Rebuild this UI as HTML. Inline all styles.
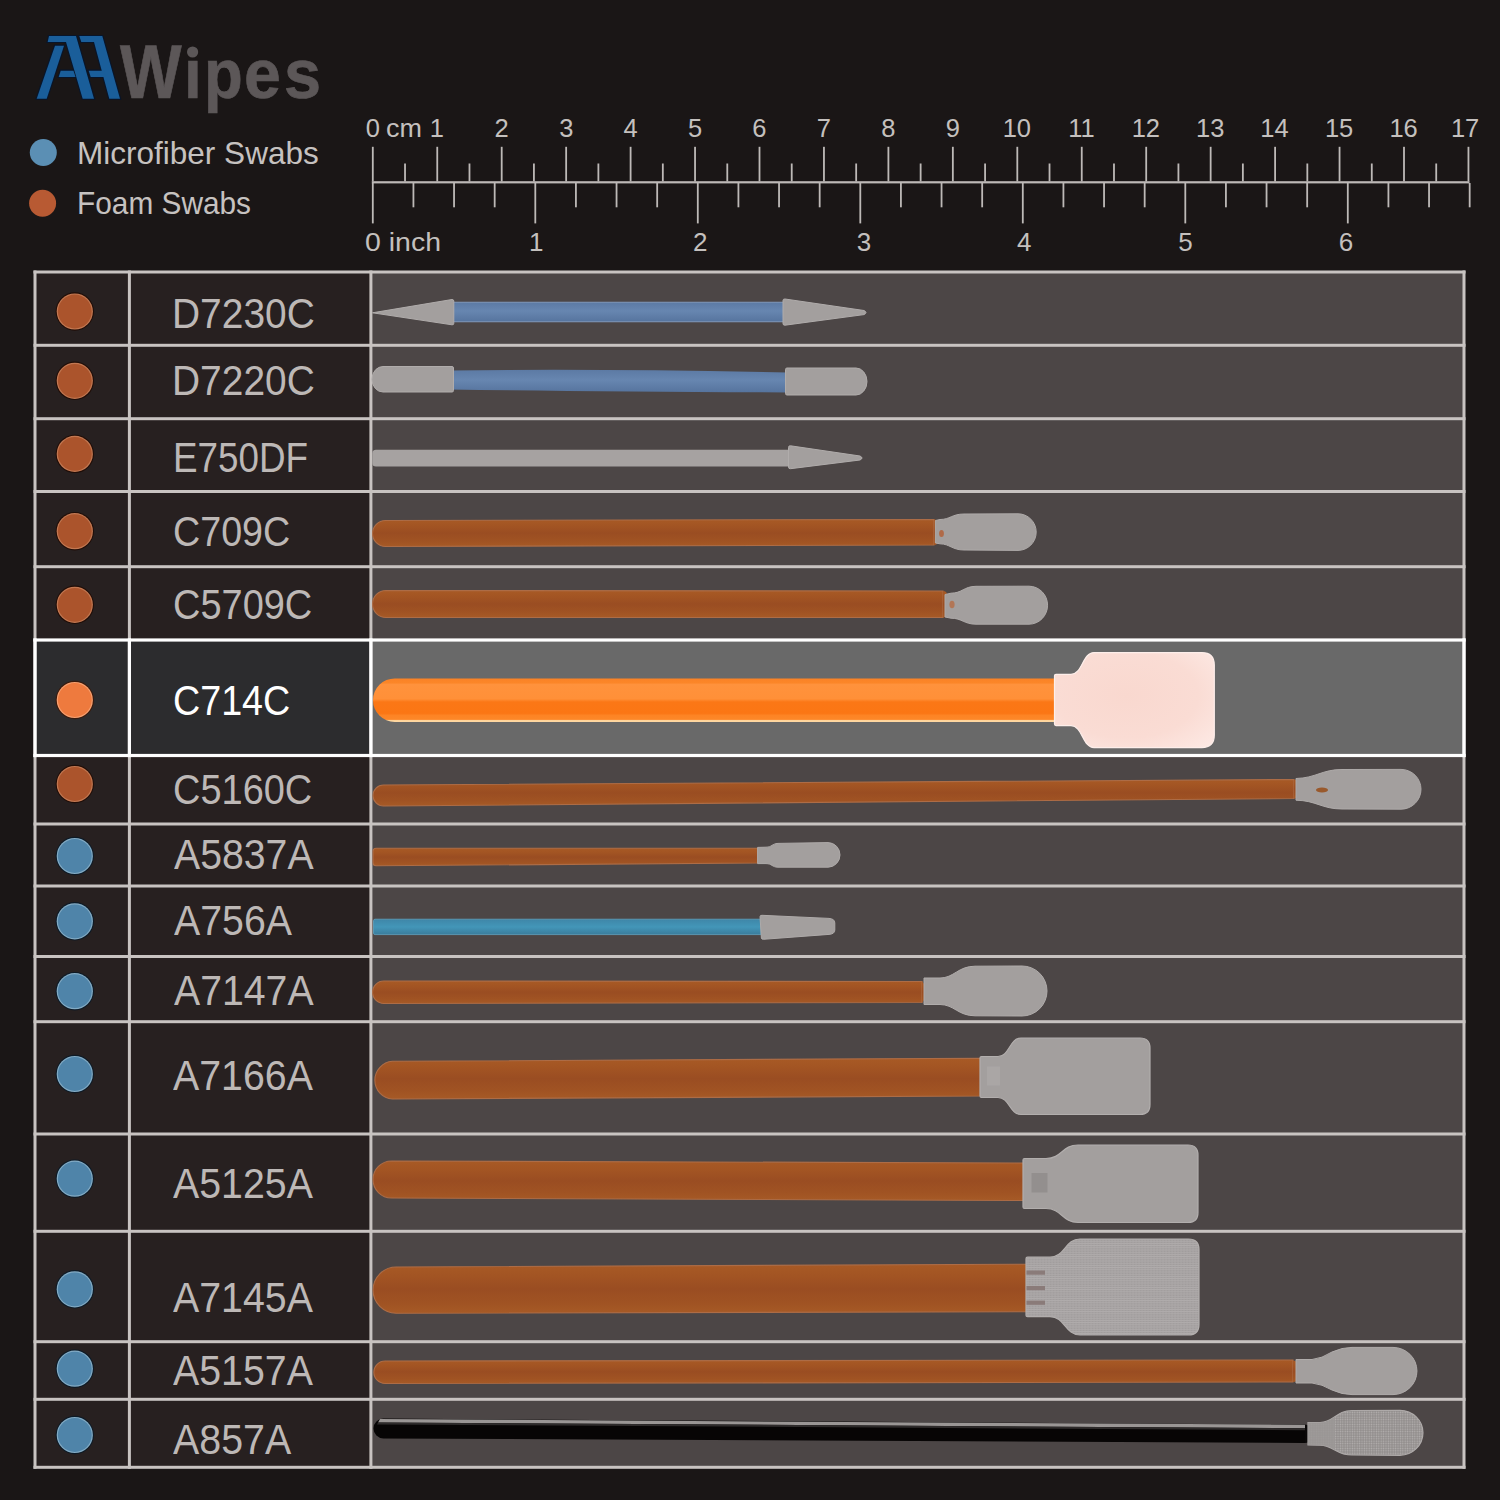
<!DOCTYPE html>
<html lang="en"><head><meta charset="utf-8"><title>AAWipes swab size chart</title>
<style>
html,body{margin:0;padding:0;}
body{width:1500px;height:1500px;overflow:hidden;background:#1a1616;position:relative;font-family:"Liberation Sans",sans-serif;}
#g{position:absolute;left:0;top:0;}
.t{position:absolute;white-space:nowrap;line-height:1;transform-origin:0 0;}
</style></head><body>
<svg id="g" width="1500" height="1500" viewBox="0 0 1500 1500">
<rect x="35" y="272" width="335.9" height="1195.3" fill="#272020"/>
<rect x="370.9" y="272" width="1093.1" height="1195.3" fill="#4c4646"/>
<rect x="35" y="640" width="335.9" height="115.5" fill="#2c2c2e"/>
<rect x="370.9" y="640" width="1093.1" height="115.5" fill="#696969"/>
<rect x="33.5" y="270.5" width="1432" height="3" fill="#c8c3c1"/>
<rect x="33.5" y="343.8" width="1432" height="3" fill="#c8c3c1"/>
<rect x="33.5" y="417.2" width="1432" height="3" fill="#c8c3c1"/>
<rect x="33.5" y="490.0" width="1432" height="3" fill="#c8c3c1"/>
<rect x="33.5" y="565.2" width="1432" height="3" fill="#c8c3c1"/>
<rect x="33.5" y="822.5" width="1432" height="3" fill="#c8c3c1"/>
<rect x="33.5" y="884.5" width="1432" height="3" fill="#c8c3c1"/>
<rect x="33.5" y="955.0" width="1432" height="3" fill="#c8c3c1"/>
<rect x="33.5" y="1020.2" width="1432" height="3" fill="#c8c3c1"/>
<rect x="33.5" y="1132.5" width="1432" height="3" fill="#c8c3c1"/>
<rect x="33.5" y="1229.8" width="1432" height="3" fill="#c8c3c1"/>
<rect x="33.5" y="1340.2" width="1432" height="3" fill="#c8c3c1"/>
<rect x="33.5" y="1397.8" width="1432" height="3" fill="#c8c3c1"/>
<rect x="33.5" y="1465.8" width="1432" height="3" fill="#c8c3c1"/>
<rect x="33.5" y="270.5" width="3" height="1198.3" fill="#c8c3c1"/>
<rect x="127.9" y="270.5" width="3" height="1198.3" fill="#c8c3c1"/>
<rect x="369.4" y="270.5" width="3" height="1198.3" fill="#c8c3c1"/>
<rect x="1462.5" y="270.5" width="3" height="1198.3" fill="#c8c3c1"/>
<rect x="33.4" y="638.4" width="1432.2" height="3.2" fill="#fff"/>
<rect x="33.4" y="753.9" width="1432.2" height="3.2" fill="#fff"/>
<rect x="33.4" y="638.4" width="3.2" height="118.7" fill="#fff"/>
<rect x="127.80000000000001" y="638.4" width="3.2" height="118.7" fill="#fff"/>
<rect x="369.29999999999995" y="638.4" width="3.2" height="118.7" fill="#fff"/>
<rect x="1462.4" y="638.4" width="3.2" height="118.7" fill="#fff"/>
<circle cx="74.8" cy="311.5" r="19.2" fill="#200d07"/><circle cx="74.8" cy="311.5" r="18.1" fill="#c27852"/><circle cx="74.8" cy="311.5" r="16.9" fill="#ab542c"/>
<circle cx="74.8" cy="380.8" r="19.2" fill="#200d07"/><circle cx="74.8" cy="380.8" r="18.1" fill="#c27852"/><circle cx="74.8" cy="380.8" r="16.9" fill="#ab542c"/>
<circle cx="74.8" cy="453.9" r="19.2" fill="#200d07"/><circle cx="74.8" cy="453.9" r="18.1" fill="#c27852"/><circle cx="74.8" cy="453.9" r="16.9" fill="#ab542c"/>
<circle cx="74.8" cy="531.2" r="19.2" fill="#200d07"/><circle cx="74.8" cy="531.2" r="18.1" fill="#c27852"/><circle cx="74.8" cy="531.2" r="16.9" fill="#ab542c"/>
<circle cx="74.8" cy="604.8" r="19.2" fill="#200d07"/><circle cx="74.8" cy="604.8" r="18.1" fill="#c27852"/><circle cx="74.8" cy="604.8" r="16.9" fill="#ab542c"/>
<circle cx="74.8" cy="700" r="19.2" fill="#3a1a0c"/><circle cx="74.8" cy="700" r="18.1" fill="#f7a070"/><circle cx="74.8" cy="700" r="16.9" fill="#ee7a3e"/>
<circle cx="74.8" cy="784" r="19.2" fill="#200d07"/><circle cx="74.8" cy="784" r="18.1" fill="#c27852"/><circle cx="74.8" cy="784" r="16.9" fill="#ab542c"/>
<circle cx="74.8" cy="856" r="19.2" fill="#0d1a26"/><circle cx="74.8" cy="856" r="18.1" fill="#83abc4"/><circle cx="74.8" cy="856" r="16.9" fill="#4f84a9"/>
<circle cx="74.8" cy="921.3" r="19.2" fill="#0d1a26"/><circle cx="74.8" cy="921.3" r="18.1" fill="#83abc4"/><circle cx="74.8" cy="921.3" r="16.9" fill="#4f84a9"/>
<circle cx="74.8" cy="991.2" r="19.2" fill="#0d1a26"/><circle cx="74.8" cy="991.2" r="18.1" fill="#83abc4"/><circle cx="74.8" cy="991.2" r="16.9" fill="#4f84a9"/>
<circle cx="74.8" cy="1074" r="19.2" fill="#0d1a26"/><circle cx="74.8" cy="1074" r="18.1" fill="#83abc4"/><circle cx="74.8" cy="1074" r="16.9" fill="#4f84a9"/>
<circle cx="74.8" cy="1178.7" r="19.2" fill="#0d1a26"/><circle cx="74.8" cy="1178.7" r="18.1" fill="#83abc4"/><circle cx="74.8" cy="1178.7" r="16.9" fill="#4f84a9"/>
<circle cx="74.8" cy="1289.3" r="19.2" fill="#0d1a26"/><circle cx="74.8" cy="1289.3" r="18.1" fill="#83abc4"/><circle cx="74.8" cy="1289.3" r="16.9" fill="#4f84a9"/>
<circle cx="74.8" cy="1368.7" r="19.2" fill="#0d1a26"/><circle cx="74.8" cy="1368.7" r="18.1" fill="#83abc4"/><circle cx="74.8" cy="1368.7" r="16.9" fill="#4f84a9"/>
<circle cx="74.8" cy="1435" r="19.2" fill="#0d1a26"/><circle cx="74.8" cy="1435" r="18.1" fill="#83abc4"/><circle cx="74.8" cy="1435" r="16.9" fill="#4f84a9"/>
<circle cx="43.3" cy="152.5" r="13.5" fill="#5b8fb4"/>
<circle cx="42.6" cy="203.2" r="13.5" fill="#b85a33"/>
<rect x="371.8" y="181.2" width="1097.65" height="2.2" fill="#bdb9b7"/>
<rect x="371.90" y="146.8" width="1.8" height="34.7" fill="#bdb9b7"/>
<rect x="404.13" y="163.5" width="1.8" height="18.0" fill="#bdb9b7"/>
<rect x="436.35" y="146.8" width="1.8" height="34.7" fill="#bdb9b7"/>
<rect x="468.58" y="163.5" width="1.8" height="18.0" fill="#bdb9b7"/>
<rect x="500.80" y="146.8" width="1.8" height="34.7" fill="#bdb9b7"/>
<rect x="533.02" y="163.5" width="1.8" height="18.0" fill="#bdb9b7"/>
<rect x="565.25" y="146.8" width="1.8" height="34.7" fill="#bdb9b7"/>
<rect x="597.48" y="163.5" width="1.8" height="18.0" fill="#bdb9b7"/>
<rect x="629.70" y="146.8" width="1.8" height="34.7" fill="#bdb9b7"/>
<rect x="661.93" y="163.5" width="1.8" height="18.0" fill="#bdb9b7"/>
<rect x="694.15" y="146.8" width="1.8" height="34.7" fill="#bdb9b7"/>
<rect x="726.38" y="163.5" width="1.8" height="18.0" fill="#bdb9b7"/>
<rect x="758.60" y="146.8" width="1.8" height="34.7" fill="#bdb9b7"/>
<rect x="790.83" y="163.5" width="1.8" height="18.0" fill="#bdb9b7"/>
<rect x="823.05" y="146.8" width="1.8" height="34.7" fill="#bdb9b7"/>
<rect x="855.27" y="163.5" width="1.8" height="18.0" fill="#bdb9b7"/>
<rect x="887.50" y="146.8" width="1.8" height="34.7" fill="#bdb9b7"/>
<rect x="919.73" y="163.5" width="1.8" height="18.0" fill="#bdb9b7"/>
<rect x="951.95" y="146.8" width="1.8" height="34.7" fill="#bdb9b7"/>
<rect x="984.18" y="163.5" width="1.8" height="18.0" fill="#bdb9b7"/>
<rect x="1016.40" y="146.8" width="1.8" height="34.7" fill="#bdb9b7"/>
<rect x="1048.62" y="163.5" width="1.8" height="18.0" fill="#bdb9b7"/>
<rect x="1080.85" y="146.8" width="1.8" height="34.7" fill="#bdb9b7"/>
<rect x="1113.08" y="163.5" width="1.8" height="18.0" fill="#bdb9b7"/>
<rect x="1145.30" y="146.8" width="1.8" height="34.7" fill="#bdb9b7"/>
<rect x="1177.52" y="163.5" width="1.8" height="18.0" fill="#bdb9b7"/>
<rect x="1209.75" y="146.8" width="1.8" height="34.7" fill="#bdb9b7"/>
<rect x="1241.97" y="163.5" width="1.8" height="18.0" fill="#bdb9b7"/>
<rect x="1274.20" y="146.8" width="1.8" height="34.7" fill="#bdb9b7"/>
<rect x="1306.42" y="163.5" width="1.8" height="18.0" fill="#bdb9b7"/>
<rect x="1338.65" y="146.8" width="1.8" height="34.7" fill="#bdb9b7"/>
<rect x="1370.88" y="163.5" width="1.8" height="18.0" fill="#bdb9b7"/>
<rect x="1403.10" y="146.8" width="1.8" height="34.7" fill="#bdb9b7"/>
<rect x="1435.32" y="163.5" width="1.8" height="18.0" fill="#bdb9b7"/>
<rect x="1467.55" y="146.8" width="1.8" height="34.7" fill="#bdb9b7"/>
<rect x="371.90" y="183" width="1.8" height="40.4" fill="#bdb9b7"/>
<rect x="412.53" y="183" width="1.8" height="24.3" fill="#bdb9b7"/>
<rect x="453.15" y="183" width="1.8" height="24.3" fill="#bdb9b7"/>
<rect x="493.78" y="183" width="1.8" height="24.3" fill="#bdb9b7"/>
<rect x="534.40" y="183" width="1.8" height="40.4" fill="#bdb9b7"/>
<rect x="575.02" y="183" width="1.8" height="24.3" fill="#bdb9b7"/>
<rect x="615.65" y="183" width="1.8" height="24.3" fill="#bdb9b7"/>
<rect x="656.27" y="183" width="1.8" height="24.3" fill="#bdb9b7"/>
<rect x="696.90" y="183" width="1.8" height="40.4" fill="#bdb9b7"/>
<rect x="737.52" y="183" width="1.8" height="24.3" fill="#bdb9b7"/>
<rect x="778.15" y="183" width="1.8" height="24.3" fill="#bdb9b7"/>
<rect x="818.77" y="183" width="1.8" height="24.3" fill="#bdb9b7"/>
<rect x="859.40" y="183" width="1.8" height="40.4" fill="#bdb9b7"/>
<rect x="900.02" y="183" width="1.8" height="24.3" fill="#bdb9b7"/>
<rect x="940.65" y="183" width="1.8" height="24.3" fill="#bdb9b7"/>
<rect x="981.27" y="183" width="1.8" height="24.3" fill="#bdb9b7"/>
<rect x="1021.90" y="183" width="1.8" height="40.4" fill="#bdb9b7"/>
<rect x="1062.52" y="183" width="1.8" height="24.3" fill="#bdb9b7"/>
<rect x="1103.15" y="183" width="1.8" height="24.3" fill="#bdb9b7"/>
<rect x="1143.77" y="183" width="1.8" height="24.3" fill="#bdb9b7"/>
<rect x="1184.40" y="183" width="1.8" height="40.4" fill="#bdb9b7"/>
<rect x="1225.02" y="183" width="1.8" height="24.3" fill="#bdb9b7"/>
<rect x="1265.65" y="183" width="1.8" height="24.3" fill="#bdb9b7"/>
<rect x="1306.27" y="183" width="1.8" height="24.3" fill="#bdb9b7"/>
<rect x="1346.90" y="183" width="1.8" height="40.4" fill="#bdb9b7"/>
<rect x="1387.52" y="183" width="1.8" height="24.3" fill="#bdb9b7"/>
<rect x="1428.15" y="183" width="1.8" height="24.3" fill="#bdb9b7"/>
<rect x="1468.77" y="183" width="1.8" height="24.3" fill="#bdb9b7"/>
<circle cx="192.6" cy="52" r="5.6" fill="#5c5758"/>
<g stroke="#07152b" stroke-width="2.2" stroke-linejoin="miter" fill="none"><polygon points="55.0,45.7 64.0,45.7 46.7,98.7 36.7,98.7"  /><polygon points="49.0,36.0 76.0,36.0 94.0,98.7 82.7,98.7 66.0,42.0 47.7,42.0"  /><polygon points="60.7,70.7 73.5,70.7 75.5,77.0 58.7,77.0"  /><polygon points="79.3,36.0 102.3,36.0 120.0,98.7 109.3,98.7 94.0,42.0 81.3,42.0"  /><polygon points="88.7,70.7 104.0,70.7 105.8,77.0 90.7,77.0"  /></g>
<g><polygon points="55.0,45.7 64.0,45.7 46.7,98.7 36.7,98.7" fill="#1a5e9a" /><polygon points="49.0,36.0 76.0,36.0 94.0,98.7 82.7,98.7 66.0,42.0 47.7,42.0" fill="#1a5e9a" /><polygon points="60.7,70.7 73.5,70.7 75.5,77.0 58.7,77.0" fill="#1a5e9a" /><polygon points="79.3,36.0 102.3,36.0 120.0,98.7 109.3,98.7 94.0,42.0 81.3,42.0" fill="#1a5e9a" /><polygon points="88.7,70.7 104.0,70.7 105.8,77.0 90.7,77.0" fill="#1a5e9a" /></g>
<defs>
<linearGradient id="gOr" x1="0" y1="0" x2="0" y2="1"><stop offset="0" stop-color="#a85a25"/><stop offset="0.25" stop-color="#a25423"/><stop offset="0.5" stop-color="#9a4d22"/><stop offset="0.8" stop-color="#a05323"/><stop offset="1" stop-color="#a65a26"/></linearGradient>
<linearGradient id="gOrH" x1="0" y1="0" x2="0" y2="1"><stop offset="0" stop-color="#f98226"/><stop offset="0.1" stop-color="#fc8628"/><stop offset="0.14" stop-color="#ff923c"/><stop offset="0.47" stop-color="#ff9038"/><stop offset="0.54" stop-color="#fb7716"/><stop offset="0.8" stop-color="#fb7614"/><stop offset="0.85" stop-color="#fd8424"/><stop offset="0.94" stop-color="#fd8728"/><stop offset="0.965" stop-color="#ffd49a"/><stop offset="1" stop-color="#ffd9a4"/></linearGradient>
<linearGradient id="gBl" x1="0" y1="0" x2="0" y2="1"><stop offset="0" stop-color="#5c7aa4"/><stop offset="0.45" stop-color="#6786b0"/><stop offset="1" stop-color="#56749e"/></linearGradient>
<linearGradient id="gCy" x1="0" y1="0" x2="0" y2="1"><stop offset="0" stop-color="#3f86a8"/><stop offset="0.5" stop-color="#4396b8"/><stop offset="1" stop-color="#3a7c9c"/></linearGradient>
<linearGradient id="gGr" x1="0" y1="0" x2="0" y2="1"><stop offset="0" stop-color="#aeaaa9"/><stop offset="1" stop-color="#a19d9c"/></linearGradient>
<linearGradient id="gBk" x1="0" y1="0" x2="0" y2="1"><stop offset="0" stop-color="#6e6a6a"/><stop offset="0.22" stop-color="#3a3737"/><stop offset="0.3" stop-color="#050505"/><stop offset="1" stop-color="#0b0909"/></linearGradient>
<radialGradient id="gPk" cx="0.45" cy="0.45" r="0.75"><stop offset="0" stop-color="#f9d8cf"/><stop offset="0.6" stop-color="#fadcd4"/><stop offset="1" stop-color="#fde9e4"/></radialGradient>
<pattern id="mesh" width="2.4" height="2.4" patternUnits="userSpaceOnUse"><rect width="2.4" height="2.4" fill="#928e8d"/><circle cx="1.2" cy="1.2" r="0.75" fill="#b4b0af"/></pattern>
<pattern id="knit" width="3" height="2.2" patternUnits="userSpaceOnUse"><rect width="3" height="2.2" fill="#a6a2a2"/><rect y="0" width="3" height="0.8" fill="#b0acac"/><rect x="0" y="1.2" width="1.2" height="0.7" fill="#9c9898"/></pattern>
</defs>
<path d="M450.0,302.3 L786.0,302.3 L786.0,321.7 L450.0,321.7 Z" fill="url(#gBl)" stroke="#7f98ba" stroke-width="1.1"/>
<path d="M372.5,312.8 L452,299.5 Q453.8,299.5 453.8,301 L453.8,323.4 Q453.8,325 452,324.8 Z" fill="#a39f9e" stroke="#b0acab" stroke-width="1"/>
<path d="M783,300.5 Q783,298.8 785,299 L864,310.5 Q868,312.6 864,314.6 L785,325.2 Q783,325.4 783,323.6 Z" fill="#a39f9e" stroke="#b0acab" stroke-width="1"/>
<path d="M450,370.5 Q600,368.5 788,372.5 L788,392.5 Q600,391.5 450,389.5 Z" fill="url(#gBl)"/>
<path d="M383,366.5 L452,366.5 Q453.5,366.5 453.5,368 L453.5,390.5 Q453.5,392 452,392 L383,392 A11,12.7 0 0 1 383,366.500 Z" fill="#a39f9e" stroke="#b0acab" stroke-width="1"/>
<path d="M785.5,369.5 Q785.5,368 787,368 L856,368 A11,13.5 0 0 1 856,395 L787,395 Q785.5,395 785.5,393.5 Z" fill="#a39f9e" stroke="#b0acab" stroke-width="1"/>
<path d="M376,449.8 L790,449.8 L790,466.6 L376,466.6 Q372.3,466.6 372.3,463 L372.3,453.4 Q372.3,449.8 376,449.8 Z" fill="#a6a2a1"/>
<path d="M788.5,447.5 Q788.5,445.5 790.5,445.8 L860,456 Q864,458 860,460 L790.5,468.7 Q788.5,469 788.5,467 Z" fill="#a39f9e" stroke="#b0acab" stroke-width="1"/>
<path d="M385.5,520.5 L934.0,519.5 L934.0,545.0 L385.5,546.5 A13.0,13.0 0 0 1 385.5,520.5 Z" fill="url(#gOr)" stroke="#ad6c46" stroke-width="1.1"/>
<path d="M934,519.5 Q938,519.5 938,524 L938,541 Q938,545 934,545 Z" fill="url(#gOr)"/>
<path d="M935.4,520.5 L940,519.5 C950,519.5 952,514 964,514 L1018,513.8 A18.2,18.3 0 0 1 1018,550.4 L964,550 C952,550 950,544 940,543.8 L935.4,543 Z" fill="#a39f9e" stroke="#aeaaa9" stroke-width="1"/>
<ellipse cx="941.5" cy="533.5" rx="2.4" ry="3.6" fill="#b06a48"/>
<path d="M386.0,590.5 L943.0,591.0 L943.0,617.5 L386.0,617.5 A13.5,13.5 0 0 1 386.0,590.5 Z" fill="url(#gOr)" stroke="#ad6c46" stroke-width="1.1"/>
<path d="M943,591 Q947,591 947,595 L947,613.5 Q947,617.5 943,617.5 Z" fill="url(#gOr)"/>
<path d="M945,594.5 L951,593.2 C962,593.2 964,586.4 976,586.3 L1029,586.2 A18.6,19 0 0 1 1029,624.2 L976,624.2 C964,624.2 962,618.2 951,618.2 L945,617 Z" fill="#a39f9e" stroke="#aeaaa9" stroke-width="1"/>
<ellipse cx="952" cy="604.5" rx="2.6" ry="3.8" fill="#b27656"/>
<path d="M394.8,678.4 L1056.0,678.4 L1056.0,722.0 L394.8,722.0 A21.8,21.8 0 0 1 394.8,678.4 Z" fill="url(#gOrH)"/>
<path d="M1056.0,674.3 L1071,674.3 C1082.5,674.3 1082.5,652.6 1094,652.6 L1201.8,652.6 Q1214.3,652.6 1214.3,665.1 L1214.3,735.1 Q1214.3,747.6 1201.8,747.6 L1094,747.6 C1082.5,747.6 1082.5,725.6 1071,725.6 L1056.0,725.6 Q1054.5,725.6 1054.5,724.1 L1054.5,675.8 Q1054.5,674.3 1056.0,674.3 Z" fill="url(#gPk)" stroke="#fdeeea" stroke-width="1.2" stroke-linejoin="round"/>
<path d="M383.5,785.0 L1294.0,779.5 L1294.0,798.5 L383.5,806.0 A10.5,10.5 0 0 1 383.5,785.0 Z" fill="url(#gOr)" stroke="#ad6c46" stroke-width="1.1"/>
<path d="M1294,779.5 Q1298,780 1298,784 L1298,794.5 Q1298,798.5 1294,798.5 Z" fill="url(#gOr)"/>
<path d="M1296,778.5 C1316,778 1322,769.5 1342,769.5 L1401,769.4 A20,19.9 0 0 1 1401,809.2 L1342,809 C1322,809 1316,800.5 1296,800.2 Z" fill="#a39f9e" stroke="#aeaaa9" stroke-width="1"/>
<ellipse cx="1322" cy="790" rx="6" ry="2.5" fill="#99592c"/>
<path d="M376,848.3 L758,848.3 L758,863 L376,865.800 Q373,865.800 373,862.800 L373,851.300 Q373,848.300 376,848.300 Z" fill="url(#gOr)" stroke="#ad6c46" stroke-width="1.1"/>
<path d="M757.6,847.4 L766,847.2 C772,847.2 772,843.6 778,843.4 L828,842.6 A12,12.3 0 0 1 828,867.2 L778,867.2 C772,867.2 772,863.6 766,863.6 L757.6,863.6 Z" fill="#a39f9e" stroke="#aeaaa9" stroke-width="1"/>
<path d="M375,919.2 L761,919.2 L761,934.6 L375,934.6 Q373.5,934.6 373.5,933 L373.5,920.800 Q373.5,919.200 375,919.200 Z" fill="url(#gCy)" stroke="#5fa3c0" stroke-width="0.8"/>
<path d="M760,916.7 Q760,915.2 762,915.3 L829,918.4 Q834.8,918.800 834.8,923 L834.8,930 Q834.8,934 829,934.400 L763.5,939.3 Q761.5,939.400 761.4,938 Z" fill="#a39f9e" stroke="#aeaaa9" stroke-width="1"/>
<path d="M383.8,981.0 L922.0,981.5 L922.0,1002.5 L383.8,1003.5 A11.2,11.2 0 0 1 383.8,981.0 Z" fill="url(#gOr)" stroke="#ad6c46" stroke-width="1.1"/>
<path d="M922,981.500 L926,986 L926,998 L922,1002.500 Z" fill="url(#gOr)"/>
<path d="M924,978 L940,978 C954,978 958,966.2 975,966.2 L1022,966 A25,25 0 0 1 1022,1016 L975,1015.8 C958,1015.8 954,1004.5 940,1004.5 L924,1004.5 Z" fill="#a39f9e" stroke="#b0acab" stroke-width="1"/>
<path d="M392.4,1061.3 L982.0,1058.2 L982.0,1096.0 L392.4,1099.0 A18.9,18.9 0 0 1 392.4,1061.3 Z" fill="url(#gOr)" stroke="#ad6c46" stroke-width="1.1"/>
<path d="M981.5,1056.5 L998,1056.5 C1009.5,1056.5 1009.5,1038 1021,1038 L1140,1038 Q1150,1038 1150,1048 L1150,1104.5 Q1150,1114.5 1140,1114.5 L1021,1114.5 C1009.5,1114.5 1009.5,1097.5 998,1097.5 L981.5,1097.5 Q980,1097.5 980,1096.0 L980,1058.0 Q980,1056.5 981.5,1056.5 Z" fill="#a39f9e" stroke="#b2aead" stroke-width="1.2" stroke-linejoin="round"/>
<rect x="987" y="1066.500" width="13" height="19" fill="#aaa6a5"/>
<path d="M391.5,1161.0 L1024.0,1163.0 L1024.0,1200.5 L391.5,1198.0 A18.5,18.5 0 0 1 391.5,1161.0 Z" fill="url(#gOr)" stroke="#ad6c46" stroke-width="1.1"/>
<path d="M1024.5,1158.5 L1046,1158.5 C1062.0,1158.5 1062.0,1145 1078,1145 L1188,1145 Q1198,1145 1198,1155 L1198,1212.5 Q1198,1222.5 1188,1222.5 L1078,1222.5 C1062.0,1222.5 1062.0,1208.5 1046,1208.5 L1024.5,1208.5 Q1023,1208.5 1023,1207.0 L1023,1160.0 Q1023,1158.5 1024.5,1158.5 Z" fill="#a39f9e" stroke="#b2aead" stroke-width="1.2" stroke-linejoin="round"/>
<rect x="1031.500" y="1173" width="16" height="19.500" fill="#938f8e"/>
<path d="M396.1,1267.0 L1027.0,1264.2 L1027.0,1311.8 L396.1,1313.2 A23.1,23.1 0 0 1 396.1,1267.0 Z" fill="url(#gOr)" stroke="#ad6c46" stroke-width="1.1"/>
<path d="M1027.5,1257.2 L1050,1257.2 C1065.0,1257.2 1065.0,1239 1080,1239 L1188.5,1239 Q1199,1239 1199,1249.5 L1199,1324.5 Q1199,1335 1188.5,1335 L1080,1335 C1065.0,1335 1065.0,1316.7 1050,1316.7 L1027.5,1316.7 Q1026,1316.7 1026,1315.2 L1026,1258.7 Q1026,1257.2 1027.5,1257.2 Z" fill="url(#knit)" stroke="#b2aead" stroke-width="1.2" stroke-linejoin="round"/>
<rect x="1026.5" y="1270.5" width="18.5" height="4.2" fill="#8a7b79"/>
<rect x="1026.5" y="1286" width="18.5" height="4.2" fill="#8a7b79"/>
<rect x="1026.5" y="1300.6" width="18.5" height="4.2" fill="#8a7b79"/>
<path d="M385.1,1361.0 L1293.0,1360.0 L1293.0,1382.0 L385.1,1383.5 A11.2,11.2 0 0 1 385.1,1361.0 Z" fill="url(#gOr)" stroke="#ad6c46" stroke-width="1.1"/>
<path d="M1293,1360.5 Q1298,1361 1298,1366 L1298,1377 Q1298,1382 1293,1382 Z" fill="url(#gOr)"/>
<path d="M1296,1359.500 L1312,1359.500 Q1322,1358.5 1332,1352 Q1342,1347.4 1352,1347.4 L1393,1347.4 A24,23.6 0 0 1 1393,1394.600 L1352,1394.600 Q1342,1394.600 1332,1390 Q1322,1384 1312,1383 L1296,1383 Z" fill="#a39f9e" stroke="#b0acab" stroke-width="1"/>
<path d="M383.4,1418.6 L1305.0,1424.6 L1305.0,1443.0 L383.4,1438.4 A9.9,9.9 0 0 1 383.4,1418.6 Z" fill="#070505"/>
<path d="M380,1419 L1305,1424.8 L1305,1428.2 L378,1422.4 Z" fill="#9a9695"/>
<path d="M378,1422.4 L1305,1428.2 L1305,1430.2 L377,1424.4 Z" fill="#2e2b2b"/>
<path d="M1305,1424.600 Q1310,1425 1310,1430 L1310,1438 Q1310,1443 1305,1443 Z" fill="#0a0808"/>
<path d="M1308,1422.5 L1320,1422.5 C1334,1422.5 1336,1410.5 1352,1410.5 L1400,1410.300 A23,22.500 0 0 1 1400,1455.300 L1352,1455 C1336,1455 1334,1445.500 1320,1445.200 L1308,1445 Z" fill="url(#mesh)" stroke="#aeaaa9" stroke-width="1.2"/>
<path d="M1308,1422.5 L1320,1422.5 C1327,1422.5 1331,1419.500 1335,1416.500 L1335,1450 C1331,1447.500 1327,1445.400 1320,1445.200 L1308,1445 Z" fill="#9b9796" opacity="0.8"/>
</svg>
<span class="t" style="left:172.41px;top:292.82px;font-size:41.8px;color:#bdb8b6;transform:scaleX(0.9309);">D7230C</span>
<span class="t" style="left:172.41px;top:360.22px;font-size:41.8px;color:#bdb8b6;transform:scaleX(0.9309);">D7220C</span>
<span class="t" style="left:172.98px;top:436.82px;font-size:41.8px;color:#bdb8b6;transform:scaleX(0.8809);">E750DF</span>
<span class="t" style="left:172.58px;top:510.52px;font-size:41.8px;color:#bdb8b6;transform:scaleX(0.9011);">C709C</span>
<span class="t" style="left:172.56px;top:584.12px;font-size:41.8px;color:#bdb8b6;transform:scaleX(0.9082);">C5709C</span>
<span class="t" style="left:172.58px;top:679.72px;font-size:41.8px;color:#ffffff;transform:scaleX(0.9011);">C714C</span>
<span class="t" style="left:172.56px;top:768.52px;font-size:41.8px;color:#bdb8b6;transform:scaleX(0.9082);">C5160C</span>
<span class="t" style="left:173.52px;top:834.32px;font-size:41.8px;color:#bdb8b6;transform:scaleX(0.9381);">A5837A</span>
<span class="t" style="left:173.52px;top:899.52px;font-size:41.8px;color:#bdb8b6;transform:scaleX(0.9400);">A756A</span>
<span class="t" style="left:173.52px;top:970.32px;font-size:41.8px;color:#bdb8b6;transform:scaleX(0.9381);">A7147A</span>
<span class="t" style="left:173.42px;top:1055.32px;font-size:41.8px;color:#bdb8b6;transform:scaleX(0.9408);">A7166A</span>
<span class="t" style="left:173.42px;top:1162.72px;font-size:41.8px;color:#bdb8b6;transform:scaleX(0.9408);">A5125A</span>
<span class="t" style="left:173.42px;top:1276.92px;font-size:41.8px;color:#bdb8b6;transform:scaleX(0.9408);">A7145A</span>
<span class="t" style="left:173.42px;top:1349.92px;font-size:41.8px;color:#bdb8b6;transform:scaleX(0.9408);">A5157A</span>
<span class="t" style="left:173.42px;top:1418.82px;font-size:41.8px;color:#bdb8b6;transform:scaleX(0.9416);">A857A</span>
<span class="t" style="left:365.71px;top:115.71px;font-size:25.5px;color:#c4c0be;">0</span>
<span class="t" style="left:429.82px;top:115.71px;font-size:25.5px;color:#c4c0be;">1</span>
<span class="t" style="left:494.61px;top:115.71px;font-size:25.5px;color:#c4c0be;">2</span>
<span class="t" style="left:559.14px;top:115.71px;font-size:25.5px;color:#c4c0be;">3</span>
<span class="t" style="left:623.59px;top:115.71px;font-size:25.5px;color:#c4c0be;">4</span>
<span class="t" style="left:687.99px;top:115.71px;font-size:25.5px;color:#c4c0be;">5</span>
<span class="t" style="left:752.32px;top:115.71px;font-size:25.5px;color:#c4c0be;">6</span>
<span class="t" style="left:816.85px;top:115.71px;font-size:25.5px;color:#c4c0be;">7</span>
<span class="t" style="left:881.31px;top:115.71px;font-size:25.5px;color:#c4c0be;">8</span>
<span class="t" style="left:945.76px;top:115.71px;font-size:25.5px;color:#c4c0be;">9</span>
<span class="t" style="left:1002.65px;top:115.71px;font-size:25.5px;color:#c4c0be;">10</span>
<span class="t" style="left:1068.17px;top:115.71px;font-size:25.5px;color:#c4c0be;">11</span>
<span class="t" style="left:1131.69px;top:115.71px;font-size:25.5px;color:#c4c0be;">12</span>
<span class="t" style="left:1196.06px;top:115.71px;font-size:25.5px;color:#c4c0be;">13</span>
<span class="t" style="left:1260.32px;top:115.71px;font-size:25.5px;color:#c4c0be;">14</span>
<span class="t" style="left:1324.94px;top:115.71px;font-size:25.5px;color:#c4c0be;">15</span>
<span class="t" style="left:1389.41px;top:115.71px;font-size:25.5px;color:#c4c0be;">16</span>
<span class="t" style="left:1450.94px;top:115.71px;font-size:25.5px;color:#c4c0be;">17</span>
<span class="t" style="left:385.87px;top:115.71px;font-size:25.5px;color:#c4c0be;transform:scaleX(1.0564);">cm</span>
<span class="t" style="left:529.12px;top:229.49px;font-size:26px;color:#c4c0be;">1</span>
<span class="t" style="left:693.07px;top:229.49px;font-size:26px;color:#c4c0be;">2</span>
<span class="t" style="left:856.75px;top:229.49px;font-size:26px;color:#c4c0be;">3</span>
<span class="t" style="left:1017.05px;top:229.49px;font-size:26px;color:#c4c0be;">4</span>
<span class="t" style="left:1178.30px;top:229.49px;font-size:26px;color:#c4c0be;">5</span>
<span class="t" style="left:1338.68px;top:229.49px;font-size:26px;color:#c4c0be;">6</span>
<span class="t" style="left:364.89px;top:229.49px;font-size:26px;color:#c4c0be;transform:scaleX(1.0950);">0 inch</span>
<span class="t" style="left:76.92px;top:136.71px;font-size:32px;color:#c6c2c0;transform:scaleX(0.9850);">Microfiber Swabs</span>
<span class="t" style="left:77.05px;top:187.41px;font-size:32px;color:#c6c2c0;transform:scaleX(0.9320);">Foam Swabs</span>
<span class="t" style="left:120.43px;top:34.34px;font-size:75.8px;color:#5c5758;font-weight:bold;-webkit-text-stroke:0.7px #5c5758;transform:scaleX(0.8613);">W</span>
<span class="t" style="left:183.79px;top:38.82px;font-size:70.5px;color:#5c5758;font-weight:bold;-webkit-text-stroke:0.7px #5c5758;transform:scaleX(0.9008);">ı</span>
<span class="t" style="left:203.81px;top:38.82px;font-size:70.5px;color:#5c5758;font-weight:bold;-webkit-text-stroke:0.7px #5c5758;transform:scaleX(0.9006);">p</span>
<span class="t" style="left:244.42px;top:38.82px;font-size:70.5px;color:#5c5758;font-weight:bold;-webkit-text-stroke:0.7px #5c5758;transform:scaleX(0.9398);">e</span>
<span class="t" style="left:284.07px;top:38.82px;font-size:70.5px;color:#5c5758;font-weight:bold;-webkit-text-stroke:0.7px #5c5758;transform:scaleX(0.9456);">s</span>
</body></html>
